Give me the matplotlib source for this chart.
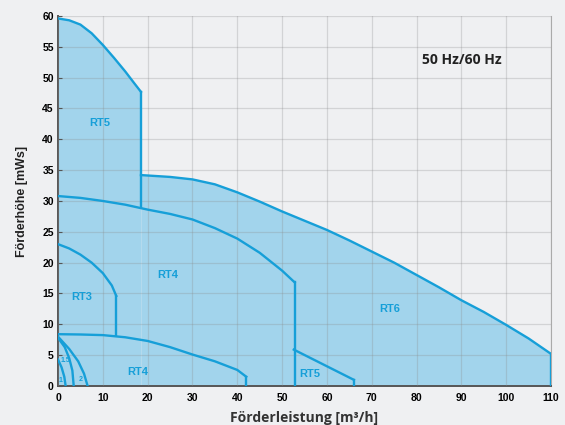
import matplotlib.pyplot as plt
import numpy as np

# curve data (Q in m3/h, H in mWs)
rt5_q = [0, 2.5, 5, 7.5, 10, 12.5, 15, 17, 18.5]
rt5_h = [59.6, 59.3, 58.6, 57.2, 55.3, 53.2, 51.0, 49.1, 47.7]

rt6_q = [18.5, 25, 30, 35, 40, 45, 50, 55, 60, 65, 70, 75, 80, 85, 90, 95, 100, 105, 110]
rt6_h = [34.2, 33.9, 33.5, 32.7, 31.4, 29.9, 28.3, 26.8, 25.3, 23.6, 21.8, 20.0, 18.0, 16.0, 13.9, 12.0, 9.9, 7.7, 5.2]

rt4_q = [0, 5, 10, 15, 20, 25, 30, 35, 40, 45, 50, 52.8]
rt4_h = [30.8, 30.5, 30.0, 29.4, 28.6, 27.9, 27.0, 25.6, 23.9, 21.6, 18.7, 16.8]

rt3_q = [0, 2.5, 5, 7.5, 10, 12, 13]
rt3_h = [23.0, 22.3, 21.3, 20.0, 18.3, 16.3, 14.6]

rt4b_q = [0, 5, 10, 15, 20, 25, 30, 35, 40, 42]
rt4b_h = [8.4, 8.35, 8.25, 7.9, 7.3, 6.3, 5.1, 4.0, 2.6, 1.5]

rt5b_q = [52.6, 66]
rt5b_h = [5.9, 1.0]

c1_q = [0, 0.8, 1.4, 1.7]
c1_h = [4.3, 3.0, 1.5, 0]
c15_q = [0, 1.5, 2.5, 3.2, 3.5]
c15_h = [7.8, 6.3, 4.5, 2.5, 0]
c2_q = [0, 2.5, 4.5, 5.8, 6.6]
c2_h = [8.0, 6.0, 4.0, 2.0, 0]

labels = ["RT5", "RT4", "RT3", "RT6", "RT4", "RT5", "1", "1.5", "2"]
label_q = [9.4, 24.4, 5.3, 73.9, 17.8, 56.1, 0.6, 1.7, 5.0]
label_h = [42.6, 18.0, 14.4, 12.5, 2.3, 1.9, 0.9, 4.1, 1.1]
label_fs = [8, 8, 8, 8, 8, 8, 5, 5, 5]

line_c = '#169fd8'
fill_c = '#a2d4ec'
bg = '#eff0f2'

fig = plt.figure(figsize=(5.65, 4.25), dpi=100, facecolor=bg)
ax = fig.add_axes([0.1027, 0.0918, 0.8726, 0.8706])
ax.set_facecolor(bg)

# filled area under the envelope
ax.fill_between(rt5_q, rt5_h, 0, color=fill_c, lw=0, zorder=1)
ax.fill_between(rt6_q, rt6_h, 0, color=fill_c, lw=0, zorder=1)
ax.fill_between([18.5, 18.5], [34.2, 34.2], 0, color=fill_c, lw=0, zorder=1)

lw = 1.7
ax.plot(rt5_q, rt5_h, color=line_c, lw=lw, zorder=3)
ax.plot([18.5, 18.5], [rt5_h[-1], 29.0], color=line_c, lw=lw, zorder=3)
ax.plot(rt6_q, rt6_h, color=line_c, lw=lw, zorder=3)
ax.plot([110, 110], [rt6_h[-1], 0], color=line_c, lw=lw, zorder=3)
ax.plot(rt4_q, rt4_h, color=line_c, lw=lw, zorder=3)
ax.plot([rt4_q[-1], rt4_q[-1]], [rt4_h[-1], 0], color=line_c, lw=lw, zorder=3)
ax.plot(rt3_q, rt3_h, color=line_c, lw=lw, zorder=3)
ax.plot([13, 13], [rt3_h[-1], 8.2], color=line_c, lw=lw, zorder=3)
ax.plot(rt4b_q, rt4b_h, color=line_c, lw=lw, zorder=3)
ax.plot([42, 42], [rt4b_h[-1], 0], color=line_c, lw=lw, zorder=3)
ax.plot(rt5b_q, rt5b_h, color=line_c, lw=lw, zorder=3)
ax.plot([66, 66], [rt5b_h[-1], 0], color=line_c, lw=lw, zorder=3)
for q, h in [(c1_q, c1_h), (c15_q, c15_h), (c2_q, c2_h)]:
    ax.plot(q, h, color=line_c, lw=lw, zorder=3)

for t, q, h, fs in zip(labels, label_q, label_h, label_fs):
    ax.text(q, h, t, color=line_c, fontsize=fs, fontweight='bold',
            ha='center', va='center', family='Liberation Sans', zorder=4)

ax.text(90, 52.9, "50 Hz/60 Hz", fontsize=10, fontweight='bold', color='#222222',
        ha='center', va='center', family='Open Sans')

ax.set_xlim(0, 110)
ax.set_ylim(0, 60)
ax.set_xticks(np.arange(0, 111, 10))
ax.set_yticks(np.arange(0, 61, 5))
ax.grid(True, color='#8a8a8a', alpha=0.28, lw=0.9, zorder=2)
ax.set_axisbelow(False)
for t in ax.get_xticklabels() + ax.get_yticklabels():
    t.set_fontweight('bold')
    t.set_family('Liberation Sans')
    t.set_fontsize(7.5)
ax.tick_params(direction='in', length=3, color='#555555', pad=3)
ax.tick_params(axis='x', length=0, pad=5)
ax.spines['left'].set_color('#555555')
ax.spines['bottom'].set_color('#555555')
ax.spines['left'].set_linewidth(1.4)
ax.spines['bottom'].set_linewidth(1.4)
ax.spines['top'].set_visible(False)
ax.spines['right'].set_color('#aaaaaa')

ax.set_xlabel("Förderleistung [m³/h]", fontsize=10, fontweight='bold',
              family='Open Sans', color='#333333', labelpad=6)
ax.set_ylabel("Förderhöhe [mWs]", fontsize=9, fontweight='bold',
              family='Liberation Sans', color='#222222', labelpad=10)

fig.savefig("out.png", dpi=100, facecolor=bg)
